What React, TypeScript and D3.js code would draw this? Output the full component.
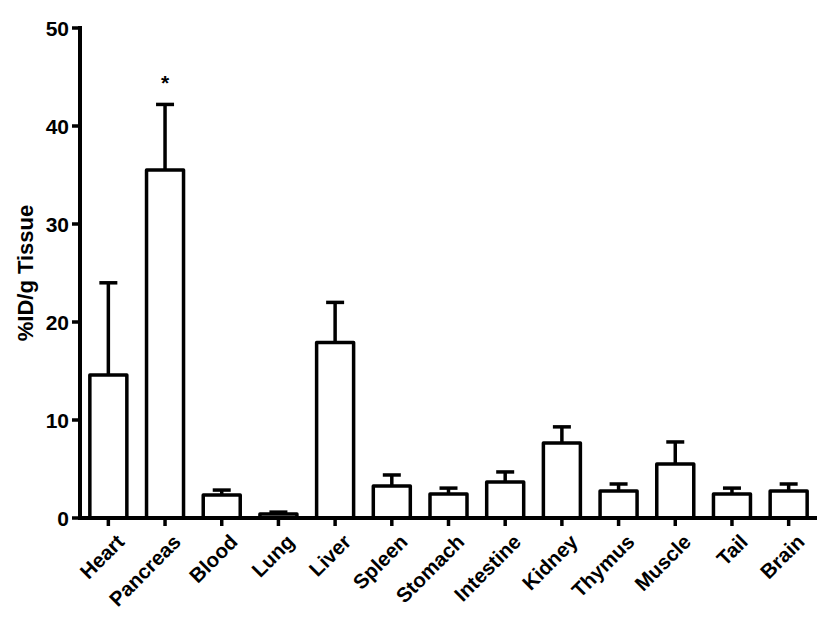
import { useEffect, useRef } from 'react'
import * as d3 from 'd3'

const organs = ['Heart', 'Pancreas', 'Blood', 'Lung', 'Liver', 'Spleen', 'Stomach', 'Intestine', 'Kidney', 'Thymus', 'Muscle', 'Tail', 'Brain']
const means = [14.6, 35.5, 2.35, 0.4, 17.9, 3.27, 2.45, 3.67, 7.65, 2.76, 5.5, 2.45, 2.76]
const errors = [9.4, 6.7, 0.5, 0.2, 4.1, 1.12, 0.6, 1.03, 1.65, 0.71, 2.26, 0.6, 0.71]
const starred = ['Pancreas']
const yTicks = [0, 10, 20, 30, 40, 50]

export default function App() {
  const svgRef = useRef<SVGSVGElement>(null)

  useEffect(() => {
    const svg = d3.select(svgRef.current)
    svg.selectAll('*').remove()

    const left = 80, right = 817, top = 28, bottom = 518
    const font = 'Arial, "Liberation Sans", sans-serif'

    const x = d3.scalePoint<string>().domain(organs).range([left, right]).padding(0.5)
    const y = d3.scaleLinear().domain([0, 50]).range([bottom, top])
    const barW = 37
    const capW = 18

    const g = svg.append('g')

    // bars
    organs.forEach((name, i) => {
      const cx = x(name)!
      const yTop = y(means[i])
      const yErr = y(means[i] + errors[i])

      g.append('line')
        .attr('x1', cx).attr('x2', cx)
        .attr('y1', yTop).attr('y2', yErr)
        .attr('stroke', '#000').attr('stroke-width', 3.5)
      g.append('line')
        .attr('x1', cx - capW / 2).attr('x2', cx + capW / 2)
        .attr('y1', yErr).attr('y2', yErr)
        .attr('stroke', '#000').attr('stroke-width', 3.5)

      g.append('rect')
        .attr('x', cx - barW / 2).attr('y', yTop)
        .attr('width', barW).attr('height', bottom - yTop)
        .attr('fill', '#fff').attr('stroke', '#000').attr('stroke-width', 3.5)
        .attr('stroke-linejoin', 'round')

      if (starred.includes(name)) {
        g.append('text')
          .attr('x', cx).attr('y', yErr - 14)
          .attr('text-anchor', 'middle')
          .attr('font-family', font).attr('font-size', 21).attr('font-weight', 'bold')
          .text('*')
      }
    })

    // y axis
    g.append('line')
      .attr('x1', left).attr('x2', left)
      .attr('y1', top - 2).attr('y2', bottom + 2)
      .attr('stroke', '#000').attr('stroke-width', 4)
    yTicks.forEach((t) => {
      g.append('line')
        .attr('x1', left - 8).attr('x2', left)
        .attr('y1', y(t)).attr('y2', y(t))
        .attr('stroke', '#000').attr('stroke-width', 3.5)
      g.append('text')
        .attr('x', left - 11).attr('y', y(t))
        .attr('dy', '0.36em')
        .attr('text-anchor', 'end')
        .attr('font-family', font).attr('font-size', 21).attr('font-weight', 'bold')
        .text(t)
    })

    // x axis
    g.append('line')
      .attr('x1', left - 2).attr('x2', right)
      .attr('y1', bottom).attr('y2', bottom)
      .attr('stroke', '#000').attr('stroke-width', 4)
    organs.forEach((name) => {
      const cx = x(name)!
      g.append('line')
        .attr('x1', cx).attr('x2', cx)
        .attr('y1', bottom).attr('y2', bottom + 8)
        .attr('stroke', '#000').attr('stroke-width', 3.5)
      g.append('text')
        .attr('transform', `translate(${cx + 7},${bottom + 15}) rotate(-45)`)
        .attr('text-anchor', 'end')
        .attr('dy', '0.7em')
        .attr('font-family', font).attr('font-size', 20.5).attr('font-weight', 'bold')
        .text(name)
    })

    // y label
    g.append('text')
      .attr('transform', `translate(33,${(top + bottom) / 2}) rotate(-90)`)
      .attr('text-anchor', 'middle')
      .attr('font-family', font).attr('font-size', 22).attr('font-weight', 'bold')
      .text('%ID/g Tissue')
  }, [])

  return <svg ref={svgRef} width={833} height={627} style={{ position: 'absolute', left: 0, top: 0, background: '#fff' }} />
}
